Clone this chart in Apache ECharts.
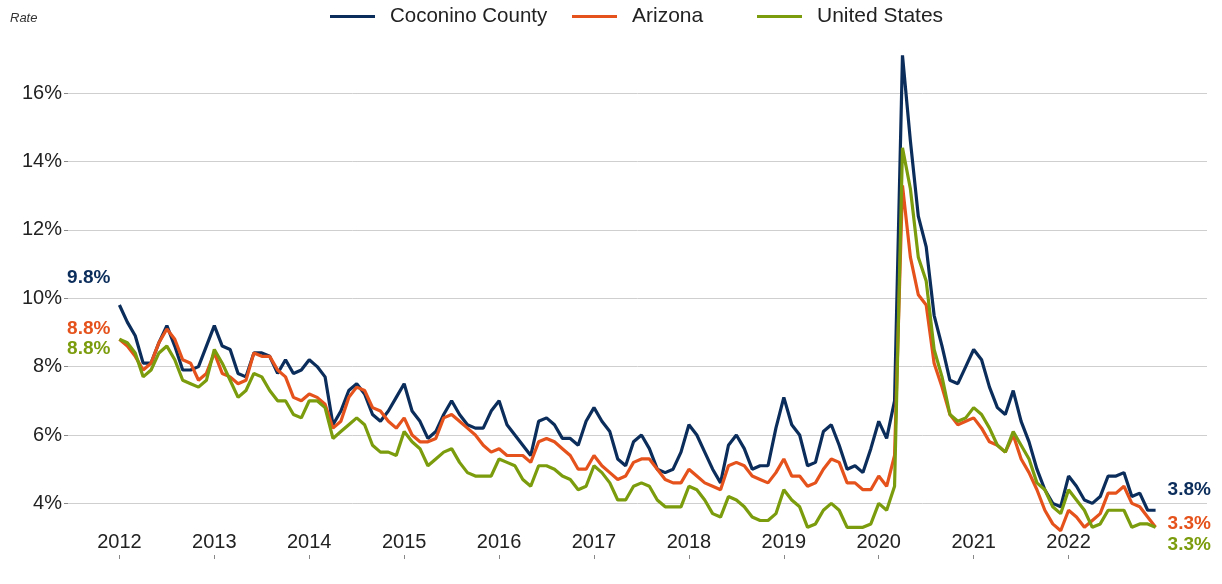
<!DOCTYPE html>
<html><head><meta charset="utf-8">
<script src="https://cdn.jsdelivr.net/npm/echarts@6/dist/echarts.min.js"></script>
<style>html,body{margin:0;padding:0;background:#fff}#c{width:1222px;height:584px}</style>
</head><body><div id="c"></div>
<script>
const years = ['2012','2013','2014','2015','2016','2017','2018','2019','2020','2021','2022'];
const seriesNames = ['Coconino County', 'Arizona', 'United States'];
const yTicks = [4, 6, 8, 10, 12, 14, 16];

// Monthly rates, Jan 2012 - Dec 2022
const coconino = [
  9.8, 9.3, 8.9, 8.1, 8.1, 8.7, 9.2, 8.6, 7.9, 7.9, 8.0, 8.6,
  9.2, 8.6, 8.5, 7.8, 7.7, 8.4, 8.4, 8.3, 7.8, 8.2, 7.8, 7.9,
  8.2, 8.0, 7.7, 6.3, 6.7, 7.3, 7.5, 7.2, 6.6, 6.4, 6.7, 7.1,
  7.5, 6.7, 6.4, 5.9, 6.1, 6.6, 7.0, 6.6, 6.3, 6.2, 6.2, 6.7,
  7.0, 6.3, 6.0, 5.7, 5.4, 6.4, 6.5, 6.3, 5.9, 5.9, 5.7, 6.4,
  6.8, 6.4, 6.1, 5.3, 5.1, 5.8, 6.0, 5.6, 5.0, 4.9, 5.0, 5.5,
  6.3, 6.0, 5.5, 5.0, 4.6, 5.7, 6.0, 5.6, 5.0, 5.1, 5.1, 6.2,
  7.1, 6.3, 6.0, 5.1, 5.2, 6.1, 6.3, 5.7, 5.0, 5.1, 4.9, 5.6,
  6.4, 5.9, 7.0, 17.1, 14.6, 12.4, 11.5, 9.5, 8.6, 7.6, 7.5, 8.0,
  8.5, 8.2, 7.4, 6.8, 6.6, 7.3, 6.4, 5.8, 5.0, 4.4, 4.0, 3.9,
  4.8, 4.5, 4.1, 4.0, 4.2, 4.8, 4.8, 4.9, 4.2, 4.3, 3.8, 3.8
];
const arizona = [
  8.8, 8.6, 8.3, 7.9, 8.1, 8.7, 9.1, 8.8, 8.2, 8.1, 7.6, 7.8,
  8.4, 7.8, 7.7, 7.5, 7.6, 8.4, 8.3, 8.3, 7.9, 7.7, 7.1, 7.0,
  7.2, 7.1, 6.9, 6.2, 6.4, 7.1, 7.4, 7.3, 6.8, 6.7, 6.4, 6.2,
  6.5, 6.0, 5.8, 5.8, 5.9, 6.5, 6.6, 6.4, 6.2, 6.0, 5.7, 5.5,
  5.6, 5.4, 5.4, 5.4, 5.2, 5.8, 5.9, 5.8, 5.6, 5.4, 5.0, 5.0,
  5.4, 5.1, 4.9, 4.7, 4.8, 5.2, 5.3, 5.3, 5.0, 4.7, 4.6, 4.6,
  5.0, 4.8, 4.6, 4.5, 4.4, 5.1, 5.2, 5.1, 4.8, 4.7, 4.6, 4.9,
  5.3, 4.8, 4.8, 4.5, 4.6, 5.0, 5.3, 5.2, 4.6, 4.6, 4.4, 4.4,
  4.8, 4.5, 5.4, 13.3, 11.2, 10.1, 9.8, 8.1, 7.4, 6.6, 6.3, 6.4,
  6.5, 6.2, 5.8, 5.7, 5.5, 6.0, 5.3, 4.9, 4.4, 3.8, 3.4, 3.2,
  3.8, 3.6, 3.3, 3.5, 3.7, 4.3, 4.3, 4.5, 4.0, 3.9, 3.6, 3.3
];
const unitedStates = [
  8.8, 8.7, 8.4, 7.7, 7.9, 8.4, 8.6, 8.2, 7.6, 7.5, 7.4, 7.6,
  8.5, 8.1, 7.6, 7.1, 7.3, 7.8, 7.7, 7.3, 7.0, 7.0, 6.6, 6.5,
  7.0, 7.0, 6.8, 5.9, 6.1, 6.3, 6.5, 6.3, 5.7, 5.5, 5.5, 5.4,
  6.1, 5.8, 5.6, 5.1, 5.3, 5.5, 5.6, 5.2, 4.9, 4.8, 4.8, 4.8,
  5.3, 5.2, 5.1, 4.7, 4.5, 5.1, 5.1, 5.0, 4.8, 4.7, 4.4, 4.5,
  5.1, 4.9, 4.6, 4.1, 4.1, 4.5, 4.6, 4.5, 4.1, 3.9, 3.9, 3.9,
  4.5, 4.4, 4.1, 3.7, 3.6, 4.2, 4.1, 3.9, 3.6, 3.5, 3.5, 3.7,
  4.4, 4.1, 3.9, 3.3, 3.4, 3.8, 4.0, 3.8, 3.3, 3.3, 3.3, 3.4,
  4.0, 3.8, 4.5, 14.4, 13.2, 11.2, 10.5, 8.5, 7.7, 6.6, 6.4, 6.5,
  6.8, 6.6, 6.2, 5.7, 5.5, 6.1, 5.7, 5.3, 4.6, 4.4, 3.9, 3.7,
  4.4, 4.1, 3.8, 3.3, 3.4, 3.8, 3.8, 3.8, 3.3, 3.4, 3.4, 3.3
];

const colors = ['#0b2d5b', '#e5521c', '#7b9c0c'];
const FONT = '"Liberation Sans", Arial, sans-serif';
const legendLeft = [330, 572, 757];
const yearIdx = years.map((y, k) => k * 12);
const toPairs = arr => arr.map((v, i) => [i, v]);
const allData = [coconino, arizona, unitedStates];

const chart = echarts.init(document.getElementById('c'));
chart.setOption({
  animation: false,
  textStyle: { fontFamily: FONT },
  grid: { left: 68, right: 15, top: 40, bottom: 25 },
  legend: seriesNames.map((n, k) => ({
    data: [n], left: legendLeft[k], top: 6, padding: 0,
    icon: 'rect', itemWidth: 45, itemHeight: 3,
    textStyle: { fontSize: k === 0 ? 20.5 : 21, fontFamily: FONT, color: '#222', padding: [0, 0, 0, 10] }
  })),
  xAxis: {
    type: 'value', min: -6.5, max: 137.5,
    axisLine: { show: false, onZero: false }, splitLine: { show: false },
    axisTick: { show: true, inside: true, length: 4, lineStyle: { color: '#888' }, customValues: yearIdx },
    axisLabel: { inside: true, margin: 7, customValues: yearIdx, formatter: v => years[Math.round(v / 12)],
                 fontSize: 20, color: '#222', fontFamily: FONT }
  },
  yAxis: {
    type: 'value', min: 2.374, max: 17.55,
    axisLine: { show: false, onZero: false },
    axisTick: { show: true, length: 4, lineStyle: { color: '#888' }, customValues: yTicks },
    axisLabel: { customValues: yTicks, formatter: v => v + '%', margin: 6, fontSize: 20, color: '#222', fontFamily: FONT },
    splitLine: { show: true, lineStyle: { color: '#cfcfcf', width: 1 } }
  },
  series: seriesNames.map((n, k) => ({
    name: n, type: 'line', data: toPairs(allData[k]),
    showSymbol: false, symbol: 'none',
    lineStyle: { width: 3.2, color: colors[k] }, itemStyle: { color: colors[k] }
  }))
});

// value labels at start and end of each series
const startOff = [-27, -10, 10];
const endOff = [-20, -4, 17];
const g = [{
  type: 'text', left: 10, top: 12,
  style: { text: 'Rate', font: 'italic 13px ' + FONT, fill: '#333' }
}];
allData.forEach((arr, k) => {
  const p0 = chart.convertToPixel({ gridIndex: 0 }, [0, arr[0]]);
  const last = arr.length - 1;
  const p1 = chart.convertToPixel({ gridIndex: 0 }, [last, arr[last]]);
  g.push({
    type: 'text', x: p0[0] - 9, y: p0[1] + startOff[k],
    style: { text: arr[0].toFixed(1) + '%', font: 'bold 19px ' + FONT, fill: colors[k], align: 'right', verticalAlign: 'middle' }
  });
  g.push({
    type: 'text', x: p1[0] + 12, y: p1[1] + endOff[k],
    style: { text: arr[last].toFixed(1) + '%', font: 'bold 19px ' + FONT, fill: colors[k], align: 'left', verticalAlign: 'middle' }
  });
});
chart.setOption({ graphic: g });
</script></body></html>
